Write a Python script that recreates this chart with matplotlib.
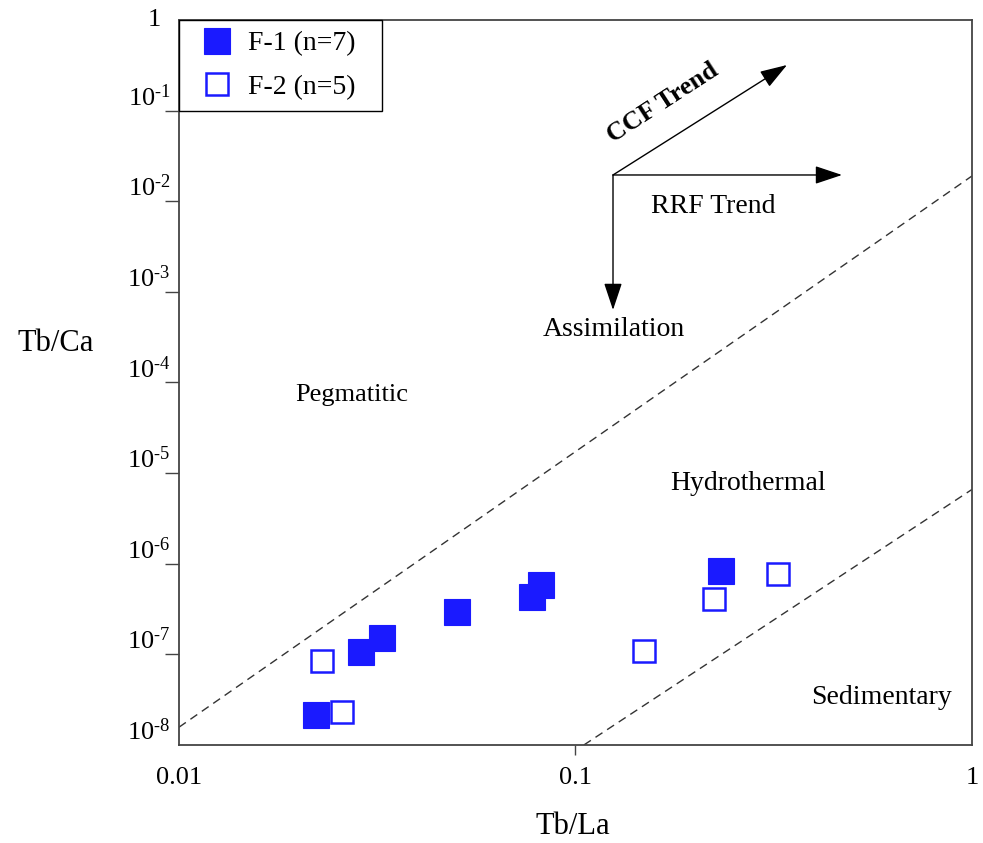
import matplotlib
matplotlib.use('Agg')
import matplotlib.pyplot as plt
from matplotlib.lines import Line2D

plt.rcParams['font.family'] = ['Liberation Serif', 'DejaVu Serif']
plt.rcParams['mathtext.fontset'] = 'custom'
plt.rcParams['mathtext.rm'] = 'Liberation Serif'
plt.rcParams['mathtext.it'] = 'Liberation Serif:italic'

# Данные
f1_tb_la = [0.0222, 0.0288, 0.0325, 0.0502, 0.0776, 0.0818, 0.233]
f1_tb_ca = [2.16e-8, 1.07e-7, 1.53e-7, 2.96e-7, 4.28e-7, 5.88e-7, 8.28e-7]

f2_tb_la = [0.0230, 0.0257, 0.149, 0.223, 0.325]
f2_tb_ca = [8.5e-8, 2.30e-8, 1.10e-7, 4.12e-7, 7.78e-7]

# Границы полей
upper_x = [0.01, 1.0]
upper_y = [1.57e-8, 1.9e-2]
lower_x = [0.105, 1.0]
lower_y = [1.0e-8, 6.6e-6]

x_ticks = [0.01, 0.1, 1]
x_labels = ['0.01', '0.1', '1']
y_ticks = [1e-8, 1e-7, 1e-6, 1e-5, 1e-4, 1e-3, 1e-2, 1e-1, 1]
y_labels = ['$10^{\u2010%d}$' % p for p in range(8, 0, -1)] + ['1']

blue = '#1a1aff'

fig = plt.figure(figsize=(9.83, 8.43), dpi=100)
ax = fig.add_axes([0.1821, 0.1163, 0.8067, 0.8600])
ax.set_xscale('log')
ax.set_yscale('log')
ax.set_xlim(0.01, 1)
ax.set_ylim(1e-8, 1)

# Пунктирные линии
ax.plot(upper_x, upper_y, color='#333333', lw=1, linestyle=(0, (6, 4)))
ax.plot(lower_x, lower_y, color='#333333', lw=1, linestyle=(0, (6, 4)))

# Точки
ax.plot(f1_tb_la, f1_tb_ca, 's', ms=18.5, color=blue, mec=blue, mew=0.8, ls='none', zorder=5)
ax.plot(f2_tb_la, f2_tb_ca, 's', ms=15.5, mfc='white', mec=blue, mew=1.8, ls='none', zorder=5)

# Оси и подписи
ax.set_xticks(x_ticks)
ax.set_xticklabels(x_labels)
ax.set_yticks(y_ticks)
ax.set_yticklabels(y_labels)
ax.minorticks_off()
ax.tick_params(axis='x', direction='out', length=7, width=1, pad=9, labelsize=19, color='#444444')
ax.tick_params(axis='y', direction='out', length=10, width=1, pad=-4, labelsize=19, color='#444444')
ax.xaxis.get_major_ticks()[0].tick1line.set_visible(False)
ax.xaxis.get_major_ticks()[-1].tick1line.set_visible(False)
ax.yaxis.get_major_ticks()[0].tick1line.set_visible(False)
ax.yaxis.get_major_ticks()[-1].tick1line.set_visible(False)
ylabs = ax.get_yticklabels()
for lab in ylabs[:-1]:
    lab.set_va('bottom')
ylabs[-1].set_va('center')
ylabs[-1].set_x(-0.012)

for sp in ax.spines.values():
    sp.set_color('#444444')
    sp.set_linewidth(1.3)

ax.set_xlabel('Tb/La', fontsize=22)
ax.xaxis.set_label_coords(0.496, -0.092)
ax.set_ylabel('Tb/Ca', fontsize=22, rotation=0, ha='center', va='center')
ax.yaxis.set_label_coords(-0.156, 0.554)

# Поля
ax.text(0.218, 0.483, 'Pegmatitic', transform=ax.transAxes, fontsize=19, ha='center', va='center')
ax.text(0.7175, 0.361, 'Hydrothermal', transform=ax.transAxes, fontsize=20, ha='center', va='center')
ax.text(0.8865, 0.066, 'Sedimentary', transform=ax.transAxes, fontsize=20, ha='center', va='center')
ax.text(0.5485, 0.5724, 'Assimilation', transform=ax.transAxes, fontsize=20, ha='center', va='center')
ax.text(0.6734, 0.7434, 'RRF Trend', transform=ax.transAxes, fontsize=20, ha='center', va='center')
ax.text(0.6103, 0.8855, 'CCF Trend', transform=ax.transAxes, fontsize=19, fontweight='bold',
        rotation=33, ha='center', va='center', rotation_mode='anchor')

# Стрелки трендов
origin = (0.5473, 0.7862)
arrow_style = dict(arrowstyle='-|>,head_length=0.6,head_width=0.2', color='black', lw=1,
                   mutation_scale=28, shrinkA=0, shrinkB=0)
for tip in [(0.7667, 0.9379), (0.8361, 0.7862), (0.5473, 0.600)]:
    ax.annotate('', xy=tip, xytext=origin, xycoords='axes fraction',
                textcoords='axes fraction', arrowprops=arrow_style)

# Легенда
handles = [
    Line2D([], [], marker='s', ms=18.5, color=blue, mec=blue, mew=0.8, ls='none'),
    Line2D([], [], marker='s', ms=15.5, mfc='white', mec=blue, mew=1.8, ls='none'),
]
leg = ax.legend(handles, ['F-1 (n=7)', 'F-2 (n=5)'], loc='upper left',
                bbox_to_anchor=(0, 0, 0.256, 1), mode='expand',
                borderaxespad=0, fancybox=False, edgecolor='black', framealpha=1,
                fontsize=20, handlelength=1.9, handletextpad=0.2, labelspacing=0.65,
                borderpad=0.4)
leg.get_frame().set_linewidth(1.0)

fig.savefig('out.png', dpi=100)
